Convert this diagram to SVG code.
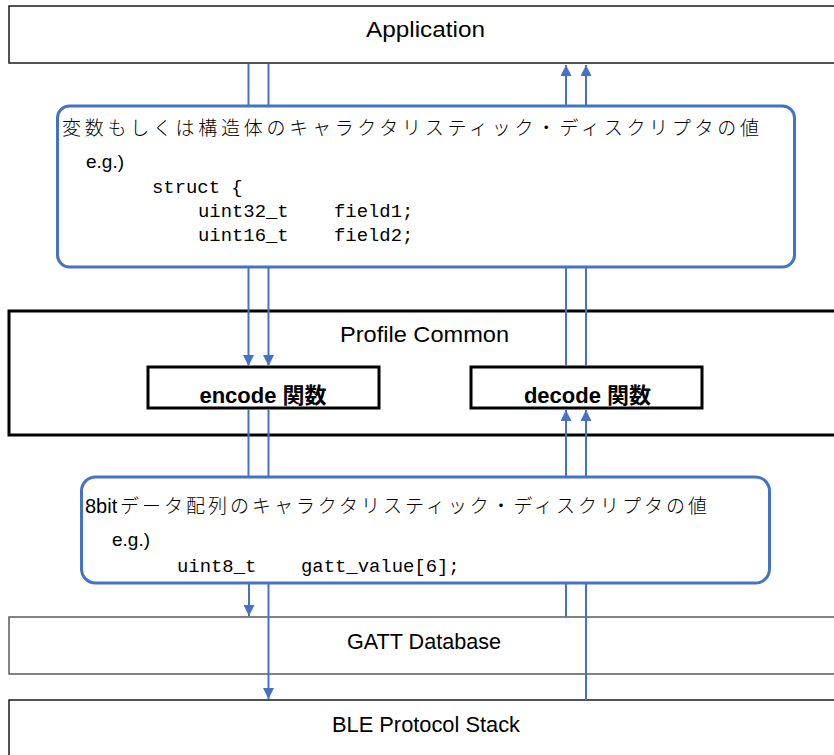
<svg xmlns="http://www.w3.org/2000/svg" width="834" height="755" viewBox="0 0 834 755">
  <style>
    .layer { fill: #ffffff; }
    .lbl { font-family: "Liberation Sans", "Noto Sans CJK JP", sans-serif; font-size: 22px; fill: #000; text-anchor: middle; }
    .fn { font-family: "Liberation Sans", "Noto Sans CJK JP", sans-serif; font-size: 22px; font-weight: bold; fill: #000; text-anchor: middle; }
    .jp { font-family: "Noto Sans CJK JP", sans-serif; font-size: 19px; font-weight: 300; fill: #000; }
    .lat { font-family: "Liberation Sans", sans-serif; font-weight: normal; }
    .eg { font-family: "Liberation Sans", sans-serif; font-size: 19px; fill: #000; }
    .code { font-family: "Liberation Mono", monospace; font-size: 18.9px; fill: #000; }
    .blue { fill: #ffffff; stroke: #4472C4; stroke-width: 3; }
    .con { stroke: #4472C4; stroke-width: 2; fill: none; }
    .arr { marker-end: url(#ah); }
  </style>
  <defs>
    <marker id="ah" markerUnits="userSpaceOnUse" markerWidth="11" markerHeight="11" refX="11" refY="5.5" orient="auto">
      <path d="M0,0 L11,5.5 L0,11 z" fill="#4472C4"/>
    </marker>
  </defs>
  <rect width="834" height="755" fill="#ffffff"/>

  <g id="application">
    <rect class="layer" x="9" y="6" width="830" height="57" stroke="#1a1a1a" stroke-width="1.5"/>
    <text class="lbl" x="425.5" y="37" textLength="119" lengthAdjust="spacingAndGlyphs">Application</text>
  </g>

  <g id="struct-value">
    <rect class="blue" x="57.5" y="106" width="737" height="161" rx="12"/>
    <text class="jp" x="62" y="135" textLength="697" lengthAdjust="spacing">変数もしくは構造体のキャラクタリスティック・ディスクリプタの値</text>
    <text class="eg" x="86" y="168">e.g.)</text>
    <text class="code" x="152" y="193">struct {</text>
    <text class="code" y="217"><tspan x="198">uint32_t</tspan><tspan x="334">field1;</tspan></text>
    <text class="code" y="241"><tspan x="198">uint16_t</tspan><tspan x="334">field2;</tspan></text>
  </g>

  <g id="profile-common">
    <rect class="layer" x="9" y="311" width="830" height="124" stroke="#000" stroke-width="3"/>
    <text class="lbl" x="424.5" y="342" textLength="169" lengthAdjust="spacingAndGlyphs">Profile Common</text>
  </g>

  <g id="encode">
    <rect class="layer" x="148" y="367" width="231" height="41" stroke="#000" stroke-width="3"/>
    <text class="fn" x="263" y="403">encode 関数</text>
  </g>

  <g id="decode">
    <rect class="layer" x="471" y="367" width="231" height="41" stroke="#000" stroke-width="3"/>
    <text class="fn" x="587.5" y="403">decode 関数</text>
  </g>

  <g id="array-value">
    <rect class="blue" x="81.5" y="477" width="688" height="106" rx="14"/>
    <text class="jp" y="513"><tspan class="lat" x="85" font-size="20">8bit</tspan><tspan x="120" textLength="587" lengthAdjust="spacing">データ配列のキャラクタリスティック・ディスクリプタの値</tspan></text>
    <text class="eg" x="112" y="546">e.g.)</text>
    <text class="code" y="572"><tspan x="177">uint8_t</tspan><tspan x="301">gatt_value[6];</tspan></text>
  </g>

  <g id="gatt-database">
    <rect class="layer" x="9" y="617" width="830" height="57" stroke="#595959" stroke-width="1.5"/>
    <text class="lbl" x="424" y="649" textLength="154" lengthAdjust="spacingAndGlyphs">GATT Database</text>
  </g>

  <g id="ble-stack">
    <rect class="layer" x="9" y="700" width="830" height="62" stroke="#1a1a1a" stroke-width="1.5"/>
    <text class="lbl" x="426" y="732" textLength="188" lengthAdjust="spacingAndGlyphs">BLE Protocol Stack</text>
  </g>

  <g id="connectors">
    <line class="con" x1="248.5" y1="64" x2="248.5" y2="105"/>
    <line class="con" x1="268.5" y1="64" x2="268.5" y2="105"/>
    <line class="con arr" x1="566" y1="105" x2="566" y2="65"/>
    <line class="con arr" x1="586" y1="105" x2="586" y2="65"/>

    <line class="con arr" x1="248.5" y1="268" x2="248.5" y2="366"/>
    <line class="con arr" x1="268.5" y1="268" x2="268.5" y2="366"/>
    <line class="con" x1="566" y1="366" x2="566" y2="268"/>
    <line class="con" x1="586" y1="366" x2="586" y2="268"/>

    <line class="con" x1="248.5" y1="409" x2="248.5" y2="476"/>
    <line class="con" x1="268.5" y1="409" x2="268.5" y2="476"/>
    <line class="con arr" x1="566" y1="476" x2="566" y2="410"/>
    <line class="con arr" x1="586" y1="476" x2="586" y2="410"/>

    <line class="con arr" x1="249" y1="584" x2="249" y2="616"/>
    <line class="con arr" x1="268.5" y1="584" x2="268.5" y2="699"/>
    <line class="con" x1="566" y1="617" x2="566" y2="584"/>
    <line class="con" x1="586" y1="700" x2="586" y2="584"/>
  </g>
</svg>
